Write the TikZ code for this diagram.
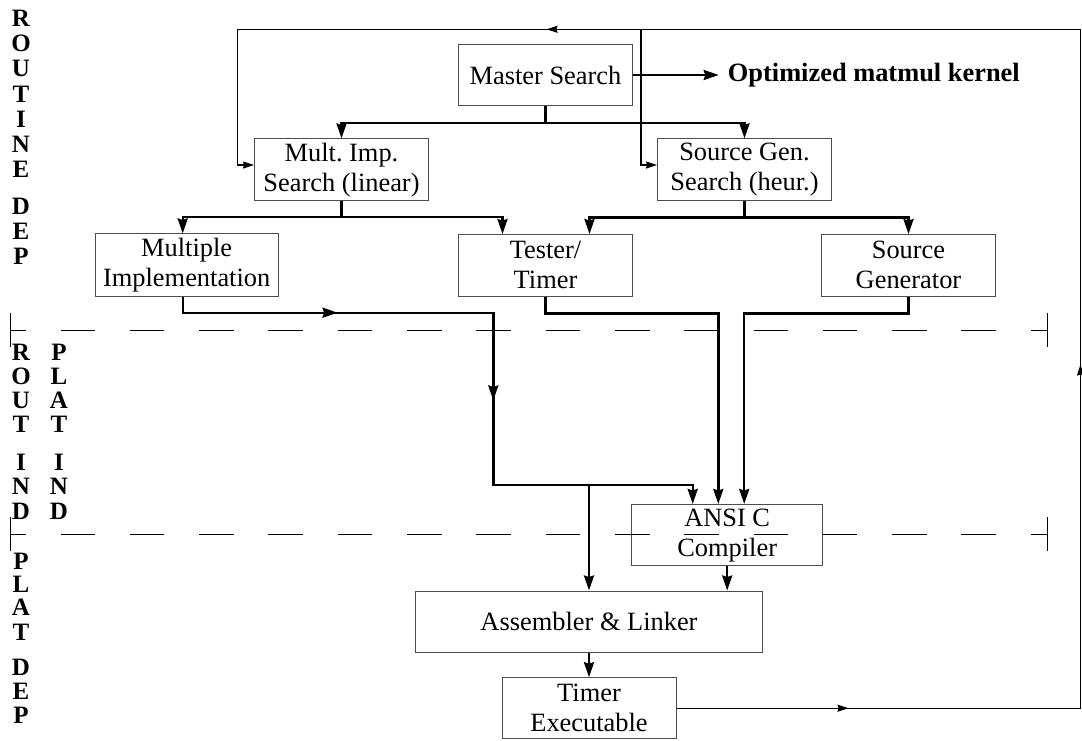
\documentclass[tikz,border=0pt]{standalone}
\usepackage{fontspec}
\setmainfont{Liberation Serif}
\usetikzlibrary{arrows.meta, decorations.markings, calc}

\newcommand{\boxfont}{\fontsize{26.4}{30}\selectfont}
\newcommand{\tagfont}{\fontsize{25}{25}\selectfont\bfseries}
\frenchspacing

\begin{document}
\begin{tikzpicture}[x=1pt, y=-1pt,
	blk/.style={draw=black!70, line width=1pt, minimum width=174pt, minimum height=61.5pt, inner sep=0pt, align=center, font=\boxfont},
	flow/.style={line width=2.4pt, -{Stealth[length=15pt,width=10pt,inset=1.5pt]}},
	fb/.style={line width=1.1pt, -{Stealth[length=11pt,width=7pt,inset=1pt]}},
	bar/.style={line width=1pt, dash pattern=on 34.65pt off 34.65pt, dash phase=18.8pt},
	tag/.style={font=\tagfont, inner sep=0pt}]
	\useasboundingbox (0,0) rectangle (1082,740);
	
	% Blocks
	\node[blk] (master) at (545.5,75) {Master Search};
	\node[font=\boxfont\bfseries, anchor=west, inner sep=0pt] (kernel) at (727.7,75) {Optimized matmul kernel};
	\node[blk] (mis) at (341.5,169.7) {Mult. Imp.\\Search (linear)};
	\node[blk] (sgs) at (744.5,169.7) {Source Gen.\\Search (heur.)};
	\node[blk, minimum width=183pt, minimum height=62.7pt] (mi) at (186.7,265.3) {Multiple\\Implementation};
	\node[blk] (tt) at (545.5,265.3) {Tester/\\Timer};
	\node[blk] (sg) at (908.5,265.3) {Source\\Generator};
	\node[blk, minimum width=191pt] (cc) at (727.2,535.2) {ANSI C\\Compiler};
	\node[blk, minimum width=346.6pt, minimum height=61pt] (asl) at (589,621.5) {Assembler \& Linker};
	\node[blk, minimum height=61pt] (te) at (589,708.2) {Timer\\Executable};
	
	% Layer borders
	\draw[bar] (10,330) -- (1047.3,330);
	\draw[bar] (10,534) -- (1047.3,534);
	\foreach \yy in {330,534} {
		\draw[line width=1pt] (10,\yy-17) -- (10,\yy+17);
		\draw[line width=1pt] (1047.3,\yy-17) -- (1047.3,\yy+17);
	}
	
	% Layer names
	\foreach \ch/\yy [count=\i] in {R/18, O/43.3, U/68.6, T/93.9, I/119.2, N/144.5, E/169.8, D/206, E/231.3, P/256.6}
		\node[tag] (rd\i) at (21,\yy) {\ch};
	\foreach \ch/\yy [count=\i] in {R/352, O/376, U/400, T/424, I/462, N/486, D/511, P/561, L/584, A/607, T/632, D/667, E/691, P/715}
		\node[tag] (pd\i) at (21,\yy) {\ch};
	\foreach \ch/\yy [count=\i] in {P/352, L/376, A/400, T/424, I/462, N/486, D/511}
		\node[tag] (pi\i) at (59,\yy) {\ch};
	
	% Search tree
	\coordinate (f1) at (545.5,122.7);
	\coordinate (f2) at (341.5,216.7);
	\coordinate (f3) at (744.5,217.3);
	\draw[flow] (master.east) -- ([xshift=-9pt]kernel.west);
	\draw[flow] (master) -- (f1) -| (mis);
	\draw[flow] (f1) -| (sgs);
	\draw[flow] (mis) -- (f2) -| ([xshift=-4pt]mi.north);
	\draw[flow] (f2) -| ([xshift=-43pt]tt.north);
	\draw[flow] (sgs) -- (f3) -| ([xshift=44pt]tt.north);
	\draw[flow] (f3) -| (sg);
	
	% Build path
	\coordinate (j1) at (493.3,485);
	\coordinate (j2) at (589,485);
	\draw[flow, postaction={decorate}, decoration={markings,
		mark=at position 170.4pt with {\arrow{Stealth[length=15pt,width=10pt,inset=1.5pt]}},
		mark=at position 413.9pt with {\arrow{Stealth[length=15pt,width=10pt,inset=1.5pt]}}}]
		([xshift=-4pt]mi.south) |- (493.3,312.7) -- (j1) -| ([xshift=-34.5pt]cc.north);
	\draw[flow] (j2) -- (asl);
	\draw[flow] (tt.south) -- ++(0,16.8) -| ([xshift=-8.9pt]cc.north);
	\draw[flow] (sg.south) -- ++(0,16.8) -| ([xshift=17pt]cc.north);
	\draw[flow] (cc.south) -- (cc.south |- asl.north);
	\draw[flow] (asl) -- (te);
	
	% Timing feedback
	\coordinate (br) at (1080.5,708.2);
	\coordinate (tr) at (1080.5,29.3);
	\coordinate (tl) at (237.2,29.3);
	\coordinate (tj) at (641,29.3);
	\draw[fb, postaction={decorate}, decoration={markings,
		mark=at position 172pt with {\arrow{Stealth[length=11pt,width=7pt,inset=1pt]}},
		mark=at position 747.7pt with {\arrow{Stealth[length=11pt,width=7pt,inset=1pt]}},
		mark=at position 1616.9pt with {\arrow{Stealth[length=11pt,width=7pt,inset=1pt]}}}]
		(te.east) -- (br) -- (tr) -- (tl) |- ([yshift=4.7pt]mis.west);
	\draw[fb] (tj) |- ([yshift=4.7pt]sgs.west);
\end{tikzpicture}
\end{document}
